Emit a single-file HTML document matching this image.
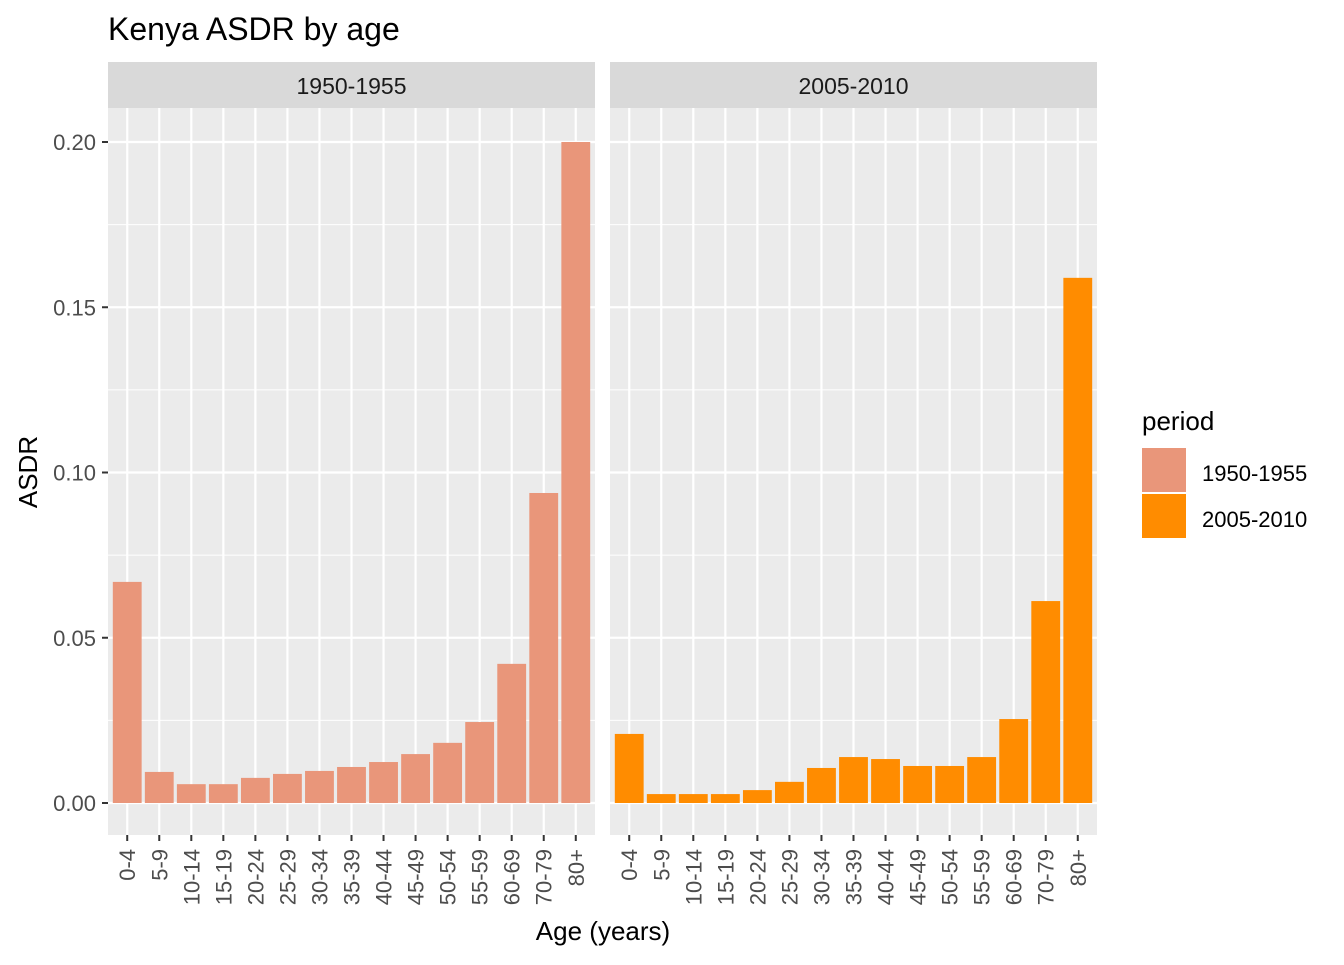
<!DOCTYPE html>
<html><head><meta charset="utf-8"><style>
body{margin:0;background:#fff;}
svg text{font-family:"Liberation Sans",Arial,sans-serif;}
</style></head><body>
<svg id="chart" width="1344" height="960" xmlns="http://www.w3.org/2000/svg">
<text x="108" y="40" font-size="32" fill="#000">Kenya ASDR by age</text>
<g id="panels"></g>
<text x="603" y="940" font-size="26" text-anchor="middle" fill="#000">Age (years)</text>
<text transform="translate(37,472) rotate(-90)" font-size="26" text-anchor="middle" fill="#000">ASDR</text>
<g>
<text x="1142" y="430" font-size="26" fill="#000">period</text>
<rect x="1142" y="448" width="44" height="44" fill="#e9967a"/>
<text x="1202" y="481" font-size="22" fill="#000">1950-1955</text>
<rect x="1142" y="494" width="44" height="44" fill="#ff8c00"/>
<text x="1202" y="527" font-size="22" fill="#000">2005-2010</text>
</g>
</svg>
<script>
const categories=["0-4","5-9","10-14","15-19","20-24","25-29","30-34","35-39","40-44","45-49","50-54","55-59","60-69","70-79","80+"];
const periods=["1950-1955","2005-2010"];
const values1950=[0.0669,0.0094,0.0057,0.0057,0.0076,0.0088,0.0097,0.0109,0.0124,0.0148,0.0182,0.0245,0.0421,0.0938,0.200];
const values2005=[0.0209,0.0027,0.0027,0.0027,0.0039,0.0064,0.0106,0.0139,0.0133,0.0112,0.0112,0.0139,0.0254,0.0611,0.1589];
const yTicks=[0,0.05,0.10,0.15,0.20];
const yTickLabels=["0.00","0.05","0.10","0.15","0.20"];
const colors=["#e9967a","#ff8c00"];
const NS="http://www.w3.org/2000/svg";
const gPanels=document.getElementById('panels');
const plotTop=108,plotBottom=835;
function yScale(v){return 803-(v/0.2)*(803-142);}
function mk(t,a){const e=document.createElementNS(NS,t);for(const k in a)e.setAttribute(k,a[k]);gPanels.appendChild(e);return e;}
const panelX=[108,610],pw=487;
[values1950,values2005].forEach((vals,p)=>{
  const x0=panelX[p];
  const n=categories.length,step=pw/(n+0.2);
  const xs=i=>x0+step*(0.6+i);
  let s=mk('rect',{x:x0,y:62,width:pw,height:46,fill:'#d9d9d9'});
  
  
  let st=mk('text',{x:x0+pw/2,y:94,'font-size':23,'text-anchor':'middle',fill:'#1a1a1a'});st.textContent=periods[p];
  
  
  let bg=mk('rect',{x:x0,y:plotTop,width:pw,height:plotBottom-plotTop,fill:'#ebebeb'});
  
  
  for(let k=0;k<yTicks.length-1;k++){const v=(yTicks[k]+yTicks[k+1])/2;mk('line',{x1:x0,x2:x0+pw,y1:yScale(v),y2:yScale(v),stroke:'#fff','stroke-width':1});}
  yTicks.forEach(v=>mk('line',{x1:x0,x2:x0+pw,y1:yScale(v),y2:yScale(v),stroke:'#fff','stroke-width':2.2}));
  categories.forEach((c,i)=>{
    mk('line',{x1:xs(i),x2:xs(i),y1:plotTop,y2:plotBottom,stroke:'#fff','stroke-width':2.2});
    mk('line',{x1:xs(i),x2:xs(i),y1:plotBottom,y2:plotBottom+6,stroke:'#333','stroke-width':2});
    let t=mk('text',{transform:`translate(${xs(i)+8},${plotBottom+14}) rotate(-90)`,'font-size':22,'text-anchor':'end',fill:'#4d4d4d'});t.textContent=c;
    
    
  });
  vals.forEach((v,i)=>{
    const bw=step*0.9;
    let r=mk('rect',{x:xs(i)-bw/2,y:yScale(v),width:bw,height:yScale(0)-yScale(v),fill:colors[p]});
    
    
  });
});
yTicks.forEach((v,k)=>{
  mk('line',{x1:102,x2:108,y1:yScale(v),y2:yScale(v),stroke:'#333','stroke-width':2});
  let t=mk('text',{x:96,y:yScale(v)+8,'font-size':22,'text-anchor':'end',fill:'#4d4d4d'});t.textContent=yTickLabels[k];
  
  
});
</script>
</body></html>
